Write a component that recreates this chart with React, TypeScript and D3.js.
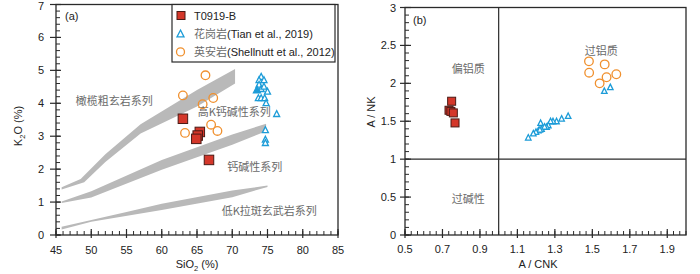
import React from "react";
import * as d3 from "d3";

// ---------- data ----------
// Panel (a): SiO2 (%) vs K2O (%)
const sampleSiO2K2O: [number, number][] = [
  [63.0, 3.53], [65.4, 3.13], [65.1, 3.02], [64.9, 2.92], [66.7, 2.28],
];
const daciteSiO2K2O: [number, number][] = [
  [66.2, 4.85], [63.0, 4.24], [67.3, 4.16], [65.8, 3.97], [67.0, 3.35], [67.9, 3.16], [63.3, 3.1],
];
const graniteSiO2K2O: [number, number][] = [
  [74.1, 4.81], [73.8, 4.71], [74.5, 4.71], [73.8, 4.57], [74.1, 4.44], [74.5, 4.51],
  [75.0, 4.36], [73.7, 4.16], [74.1, 4.16], [74.6, 4.16], [74.8, 4.01], [76.3, 3.68],
  [74.7, 3.19], [74.7, 2.9], [74.7, 2.8],
];
const graniteFilledSiO2K2O: [number, number][] = [[73.5, 4.41]];

// series boundary bands (upper edge then lower edge reversed)
const bandShoshonite: [number, number][] = [
  [45.8, 1.45], [48.5, 1.7], [52, 2.45], [57, 3.36], [65, 4.4], [70.4, 5.04],
  [70.4, 4.6], [65, 3.9], [57, 3.08], [52, 2.22], [49, 1.6], [45.8, 1.38],
];
const bandHighK: [number, number][] = [
  [45.8, 1.02], [50, 1.33], [60, 2.28], [70, 3.05], [74.8, 3.38],
  [74.8, 3.15], [70, 2.74], [60, 1.98], [50, 1.14], [45.8, 0.97],
];
const bandLowK: [number, number][] = [
  [45.8, 0.25], [55, 0.7], [60, 0.95], [70, 1.35], [75, 1.5],
  [75, 1.46], [70, 1.15], [60, 0.76], [50, 0.4], [45.8, 0.17],
];

const seriesLabels = [
  { text: "橄榄粗玄岩系列", x: 47.8, y: 3.95 },
  { text: "高K钙碱性系列", x: 65.1, y: 3.6 },
  { text: "钙碱性系列", x: 69.3, y: 1.95 },
  { text: "低K拉斑玄武岩系列", x: 68.5, y: 0.6 },
];

// Panel (b): A/CNK vs A/NK
const sampleACNK: [number, number][] = [
  [0.749, 1.764], [0.735, 1.645], [0.745, 1.63], [0.758, 1.61], [0.767, 1.478],
];
const daciteACNK: [number, number][] = [
  [1.482, 2.29], [1.566, 2.25], [1.483, 2.14], [1.628, 2.12], [1.576, 2.08], [1.539, 2.0],
];
const graniteACNK: [number, number][] = [
  [1.564, 1.9], [1.596, 1.95], [1.371, 1.57], [1.336, 1.535], [1.309, 1.5], [1.29, 1.5],
  [1.277, 1.5], [1.265, 1.447], [1.256, 1.425], [1.224, 1.478], [1.229, 1.4], [1.245, 1.43],
  [1.212, 1.38], [1.22, 1.39], [1.199, 1.36], [1.185, 1.34], [1.158, 1.285],
];
const fieldLabels = [
  { text: "偏铝质", x: 0.75, y: 2.14 },
  { text: "过铝质", x: 1.46, y: 2.37 },
  { text: "过碱性", x: 0.75, y: 0.42 },
];

const xTicksA = [45, 50, 55, 60, 65, 70, 75, 80, 85];
const yTicksA = [0, 1, 2, 3, 4, 5, 6, 7];
const xTicksB = [0.5, 0.7, 0.9, 1.1, 1.3, 1.5, 1.7, 1.9];
const yTicksB = [0, 0.5, 1, 1.5, 2, 2.5, 3];

const legendItems = [
  { cn: "", en: "T0919-B", kind: "square" },
  { cn: "花岗岩", en: "(Tian et al., 2019)", kind: "triangle" },
  { cn: "英安岩", en: "(Shellnutt et al., 2012)", kind: "circle" },
];

// ---------- styles ----------
const RED = "#d4372a";
const RED_STROKE = "#4a1a15";
const ORANGE = "#f0902e";
const BLUE = "#1c9cd8";
const BAND = "#b9b9b9";
const AXIS = "#2a2a2a";
const LABEL_GRAY = "#6a6a6a";
const SANS = "'Liberation Sans', Arial, sans-serif";
const CJK = "'Noto Sans CJK SC', sans-serif";

const Square = ({ x, y, s }: { x: number; y: number; s: number }) => (
  <rect x={x - s / 2} y={y - s / 2} width={s} height={s} fill={RED} stroke={RED_STROKE} strokeWidth={1} />
);
const Circle = ({ x, y, r }: { x: number; y: number; r: number }) => (
  <circle cx={x} cy={y} r={r} fill="none" stroke={ORANGE} strokeWidth={1.3} />
);
const Tri = ({ x, y, s, filled }: { x: number; y: number; s: number; filled?: boolean }) => {
  const h = s * 0.9;
  return (
    <path
      d={`M${x},${y - h / 2 - 0.5}L${x + s / 2},${y + h / 2}L${x - s / 2},${y + h / 2}Z`}
      fill={filled ? BLUE : "white"}
      stroke={BLUE}
      strokeWidth={1.3}
    />
  );
};

function PanelA() {
  const x = d3.scaleLinear().domain([45, 85]).range([56, 338]);
  const y = d3.scaleLinear().domain([0, 7]).range([235, 4.5]);
  const line = d3.line<[number, number]>().x((d) => x(d[0])).y((d) => y(d[1]));
  const minorX = d3.range(45, 85.01, 1);
  const minorY = d3.range(0, 7.01, 0.2);
  return (
    <g>
      {[bandShoshonite, bandHighK, bandLowK].map((b, i) => (
        <path key={i} d={line(b) + "Z"} fill={BAND} stroke="none" />
      ))}
      {seriesLabels.map((l, i) => (
        <text key={i} x={x(l.x)} y={y(l.y)} fontFamily={CJK} fontSize={11} fill={LABEL_GRAY}>
          {l.text}
        </text>
      ))}
      <rect x={56} y={4.5} width={282} height={230.5} fill="none" stroke={AXIS} strokeWidth={1.3} />
      {minorX.map((v, i) => (
        <line key={"mx" + i} x1={x(v)} x2={x(v)} y1={231} y2={235} stroke={AXIS} strokeWidth={1} />
      ))}
      {xTicksA.map((v) => (
        <g key={"x" + v}>
          <line x1={x(v)} x2={x(v)} y1={229} y2={238} stroke={AXIS} strokeWidth={1.2} />
          <text x={x(v)} y={254} textAnchor="middle" fontFamily={SANS} fontSize={11} fill="#222">
            {v}
          </text>
        </g>
      ))}
      {minorY.map((v, i) => (
        <line key={"my" + i} x1={56} x2={60} y1={y(v)} y2={y(v)} stroke={AXIS} strokeWidth={1} />
      ))}
      {yTicksA.map((v) => (
        <g key={"y" + v}>
          <line x1={50} x2={61} y1={y(v)} y2={y(v)} stroke={AXIS} strokeWidth={1.2} />
          <text x={44} y={Math.max(y(v) + 4, 10)} textAnchor="end" fontFamily={SANS} fontSize={11} fill="#222">
            {v}
          </text>
        </g>
      ))}
      <text x={65} y={20} fontFamily={SANS} fontSize={11} fill="#222">(a)</text>
      <text x={197} y={268} textAnchor="middle" fontFamily={SANS} fontSize={11} fill="#222">
        SiO<tspan fontSize={7.5} dy={3}>2</tspan>
        <tspan dy={-3}> (%)</tspan>
      </text>
      <text transform="translate(22,126) rotate(-90)" textAnchor="middle" fontFamily={SANS} fontSize={11} fill="#222">
        K<tspan fontSize={7.5} dy={3}>2</tspan>
        <tspan dy={-3}>O (%)</tspan>
      </text>
      {daciteSiO2K2O.map((d, i) => (
        <Circle key={"c" + i} x={x(d[0])} y={y(d[1])} r={4.3} />
      ))}
      {graniteSiO2K2O.map((d, i) => (
        <Tri key={"t" + i} x={x(d[0])} y={y(d[1])} s={6} />
      ))}
      {graniteFilledSiO2K2O.map((d, i) => (
        <Tri key={"tf" + i} x={x(d[0])} y={y(d[1])} s={7} filled />
      ))}
      {sampleSiO2K2O.map((d, i) => (
        <Square key={"s" + i} x={x(d[0])} y={y(d[1])} s={9.5} />
      ))}
      {/* legend */}
      <rect x={172} y={4.5} width={163} height={57.5} fill="white" stroke={AXIS} strokeWidth={1.2} />
      {legendItems.map((it, i) => {
        const cy = 15.5 + i * 18.2;
        return (
          <g key={"lg" + i}>
            {it.kind === "square" && <Square x={181} y={cy} s={8} />}
            {it.kind === "triangle" && <Tri x={180.5} y={cy} s={7} />}
            {it.kind === "circle" && <Circle x={180.5} y={cy} r={4} />}
            <text x={194} y={cy + 4} fontSize={11}>
              {it.cn && (
                <tspan fontFamily={CJK} fill={LABEL_GRAY}>{it.cn}</tspan>
              )}
              <tspan fontFamily={SANS} fill="#222">{it.en}</tspan>
            </text>
          </g>
        );
      })}
    </g>
  );
}

function PanelB() {
  const x = d3.scaleLinear().domain([0.5, 2.0]).range([405, 686]);
  const y = d3.scaleLinear().domain([0, 3]).range([235, 7.5]);
  const minorX = d3.range(0, 45.01, 1).map((k) => 0.5 + (k * 0.2) / 6);
  const minorY = d3.range(0, 3.001, 0.1);
  return (
    <g>
      {fieldLabels.map((l, i) => (
        <text key={i} x={x(l.x)} y={y(l.y)} fontFamily={CJK} fontSize={11} fill={LABEL_GRAY}>
          {l.text}
        </text>
      ))}
      <line x1={x(1)} x2={x(1)} y1={y(3)} y2={y(0)} stroke={AXIS} strokeWidth={1.2} />
      <line x1={x(0.5)} x2={x(2)} y1={y(1)} y2={y(1)} stroke={AXIS} strokeWidth={1.2} />
      <rect x={405} y={7.5} width={281} height={227.5} fill="none" stroke={AXIS} strokeWidth={1.3} />
      {minorX.map((v, i) => (
        <line key={"mx" + i} x1={x(v)} x2={x(v)} y1={231} y2={235} stroke={AXIS} strokeWidth={1} />
      ))}
      {xTicksB.map((v) => (
        <g key={"x" + v}>
          <line x1={x(v)} x2={x(v)} y1={229} y2={238} stroke={AXIS} strokeWidth={1.2} />
          <text x={x(v)} y={253} textAnchor="middle" fontFamily={SANS} fontSize={11} fill="#222">
            {v}
          </text>
        </g>
      ))}
      {minorY.map((v, i) => (
        <line key={"my" + i} x1={405} x2={409} y1={y(v)} y2={y(v)} stroke={AXIS} strokeWidth={1} />
      ))}
      {yTicksB.map((v) => (
        <g key={"y" + v}>
          <line x1={400} x2={411} y1={y(v)} y2={y(v)} stroke={AXIS} strokeWidth={1.2} />
          <text x={396} y={Math.max(y(v) + 4, 11)} textAnchor="end" fontFamily={SANS} fontSize={11} fill="#222">
            {v}
          </text>
        </g>
      ))}
      <text x={413} y={24} fontFamily={SANS} fontSize={11} fill="#222">(b)</text>
      <text x={538} y={268} textAnchor="middle" fontFamily={SANS} fontSize={11} fill="#222">
        A / CNK
      </text>
      <text transform="translate(375,112) rotate(-90)" textAnchor="middle" fontFamily={SANS} fontSize={11} fill="#222">
        A / NK
      </text>
      {daciteACNK.map((d, i) => (
        <Circle key={"c" + i} x={x(d[0])} y={y(d[1])} r={4.3} />
      ))}
      {graniteACNK.map((d, i) => (
        <Tri key={"t" + i} x={x(d[0])} y={y(d[1])} s={5.5} />
      ))}
      {sampleACNK.map((d, i) => (
        <Square key={"s" + i} x={x(d[0])} y={y(d[1])} s={8} />
      ))}
    </g>
  );
}

export default function App() {
  return (
    <svg
      width={700}
      height={274}
      viewBox="0 0 700 274"
      style={{ position: "absolute", left: 0, top: 0, background: "white" }}
    >
      <rect x={0} y={0} width={700} height={274} fill="white" />
      <PanelA />
      <PanelB />
    </svg>
  );
}
